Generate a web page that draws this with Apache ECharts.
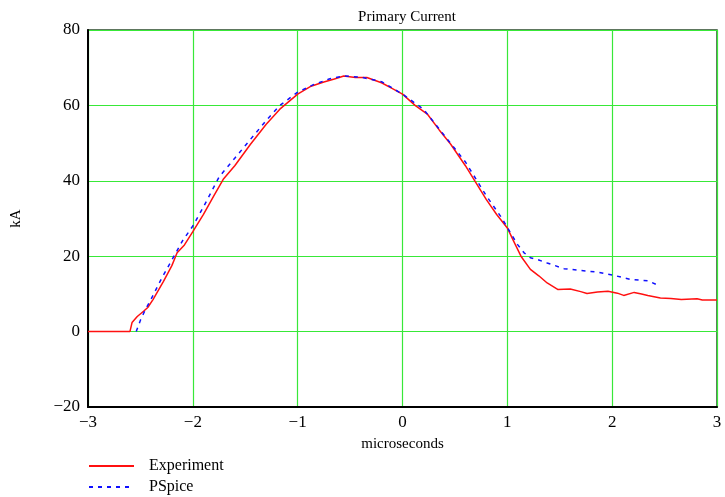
<!DOCTYPE html>
<html><head><meta charset="utf-8">
<script src="https://cdn.jsdelivr.net/npm/echarts@6/dist/echarts.min.js"></script>
<style>html,body{margin:0;padding:0;background:#fff}#c{width:725px;height:497px}</style>
</head><body><div id="c"></div>
<script>
var expX = [-3, -2.6, -2.58, -2.53, -2.47, -2.43, -2.38, -2.28, -2.2, -2.15, -2.08, -2.0, -1.9, -1.8, -1.71, -1.6, -1.45, -1.3, -1.17, -1.0, -0.88, -0.75, -0.65, -0.56, -0.45, -0.34, -0.2, -0.1, 0, 0.12, 0.24, 0.35, 0.46, 0.6, 0.7, 0.8, 0.9, 1.0, 1.06, 1.13, 1.22, 1.3, 1.38, 1.48, 1.6, 1.7, 1.76, 1.86, 1.96, 2.05, 2.11, 2.21, 2.28, 2.34, 2.46, 2.56, 2.66, 2.81, 2.86, 3.0];
var expY = [0, 0, 2.4, 4, 5.4, 6.4, 8.5, 13.3, 17.5, 20.9, 23, 26.5, 31, 36, 40.4, 44, 49.7, 55, 59, 63, 65, 66.2, 67, 67.8, 67.4, 67.4, 66, 64.5, 63, 60, 57.6, 53.5, 49.7, 44, 39.5, 35, 31, 27.5, 24, 20, 16.5, 14.8, 12.9, 11.2, 11.3, 10.6, 10.1, 10.5, 10.7, 10.2, 9.6, 10.4, 10.0, 9.6, 8.9, 8.8, 8.5, 8.7, 8.4, 8.4];
var psX = [-2.54, -2.5, -2.45, -2.4, -2.3, -2.2, -2.1, -2.0, -1.9, -1.75, -1.6, -1.45, -1.3, -1.17, -1.0, -0.85, -0.7, -0.56, -0.4, -0.2, 0, 0.2, 0.4, 0.6, 0.8, 0.95, 1.03, 1.1, 1.16, 1.22, 1.3, 1.38, 1.54, 1.7, 1.86, 2.02, 2.18, 2.34, 2.42];
var psY = [0, 3, 6, 8.5, 14, 19, 24, 28, 33, 41, 46, 51, 56, 60, 63.5, 65.5, 67, 67.8, 67.5, 66.3, 63, 59, 52, 45, 36, 30, 26.2, 23, 20.9, 19.6, 19, 18.2, 16.7, 16.2, 15.8, 14.9, 13.8, 13.5, 12.5];
var seriesNames = ['Experiment', 'PSpice'];
var titleText = 'Primary Current';
var xName = 'microseconds', yName = 'kA';

function pairs(xs, ys) { return xs.map(function (x, i) { return [x, ys[i]]; }); }
function minus(v) { return String(v).replace('-', '\u2212'); }
var font = '"Liberation Serif", "DejaVu Serif", serif';
var gridGreen = '#38e838';

var chart = echarts.init(document.getElementById('c'));
chart.setOption({
  animation: false,
  title: { text: titleText, left: 402, top: 5, textAlign: 'center',
    textStyle: { fontFamily: font, fontSize: 15, fontWeight: 'normal', color: '#000' } },
  grid: { left: 88, right: 8, top: 30, bottom: 90, show: true, borderColor: '#2a4a2a', borderWidth: 1.5, backgroundColor: 'transparent' },
  legend: {
    orient: 'vertical', left: 83, top: 453, height: 44, itemWidth: 45, itemHeight: 10, itemGap: 5,
    itemStyle: { opacity: 0 },
    textStyle: { fontFamily: font, fontSize: 16, color: '#000', padding: [0, 0, 0, 10] },
    data: seriesNames
  },
  xAxis: {
    type: 'value', min: -3, max: 3, interval: 1,
    name: xName, nameLocation: 'middle', nameGap: 30,
    nameTextStyle: { fontFamily: font, fontSize: 15, color: '#000' },
    axisLine: { show: true, onZero: false, lineStyle: { color: '#000', width: 2 } },
    axisTick: { show: false },
    axisLabel: { fontFamily: font, fontSize: 17, color: '#000', margin: 7, formatter: minus },
    splitLine: { show: true, lineStyle: { color: gridGreen, width: 1.2 } }
  },
  yAxis: {
    type: 'value', min: -20, max: 80, interval: 20,
    name: yName, nameLocation: 'middle', nameGap: 64, nameRotate: 90,
    nameTextStyle: { fontFamily: font, fontSize: 15, color: '#000' },
    axisLine: { show: true, onZero: false, lineStyle: { color: '#000', width: 2 } },
    axisTick: { show: false },
    axisLabel: { fontFamily: font, fontSize: 17, color: '#000', margin: 8, formatter: minus },
    splitLine: { show: true, lineStyle: { color: gridGreen, width: 1.2 } }
  },
  series: [
    { name: seriesNames[0], type: 'line', data: pairs(expX, expY), showSymbol: false, symbol: 'none',
      lineStyle: { color: '#ff1010', width: 1.5 }, itemStyle: { color: '#ff1010' }, z: 3 },
    { name: seriesNames[1], type: 'line', data: pairs(psX, psY), showSymbol: false, symbol: 'none',
      lineStyle: { color: '#1010ff', width: 1.5, type: [4, 5] }, itemStyle: { color: '#1010ff' }, z: 4 }
  ]
});
</script></body></html>
